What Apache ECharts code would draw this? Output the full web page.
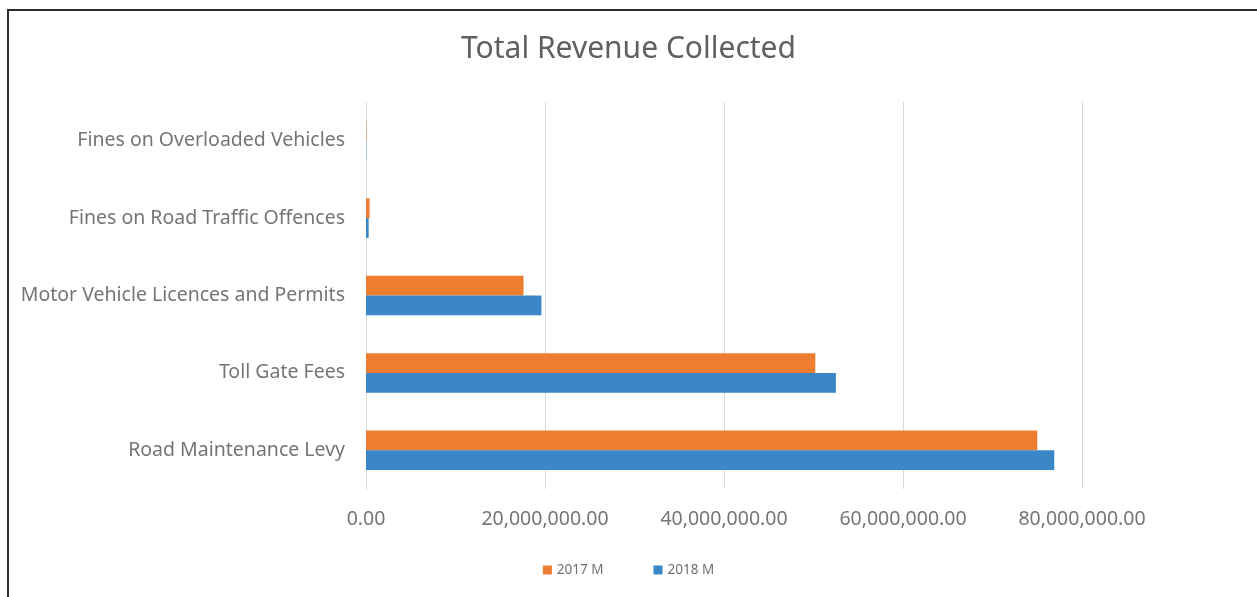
<!DOCTYPE html>
<html>
<head>
<meta charset="utf-8">
<script src="https://cdn.jsdelivr.net/npm/echarts@6/dist/echarts.min.js"></script>
<style>
html,body{margin:0;padding:0;background:#fff;}
#frame{position:absolute;left:7px;top:9px;width:1250px;height:588px;border-left:2px solid #2b2b2b;border-top:2px solid #2b2b2b;box-sizing:border-box;}
#chart{position:absolute;left:0;top:0;width:1257px;height:597px;}
</style>
</head>
<body>
<div id="frame"></div>
<div id="chart"></div>
<script>
const categories = ["Road Maintenance Levy", "Toll Gate Fees", "Motor Vehicle Licences and Permits", "Fines on Road Traffic Offences", "Fines on Overloaded Vehicles"];
const series2017 = [75000000, 50200000, 17600000, 400000, 50000];
const series2018 = [76900000, 52500000, 19600000, 300000, 30000];
const xTicks = [0, 20000000, 40000000, 60000000, 80000000];

const fmt = v => v.toLocaleString('en-US', {minimumFractionDigits: 2, maximumFractionDigits: 2});
const font = "'Noto Sans', sans-serif";
const chart = echarts.init(document.getElementById('chart'), null, {renderer: 'canvas'});
chart.setOption({
  animation: false,
  backgroundColor: 'transparent',
  title: {
    text: 'Total Revenue Collected',
    left: 'center', top: 29,
    textStyle: {fontFamily: font, fontSize: 30, fontWeight: 'normal', color: '#606060'}
  },
  legend: {
    bottom: 15, left: 'center',
    itemWidth: 9, itemHeight: 9, itemGap: 50,
    icon: 'rect',
    textStyle: {fontFamily: font, fontSize: 13.5, color: '#707070'},
    data: ['2017 M', '2018 M']
  },
  grid: {left: 366, right: 175, top: 102, bottom: 108, containLabel: false},
  xAxis: {
    type: 'value', min: 0, max: 80000000, interval: 20000000,
    axisLine: {show: false}, axisTick: {show: false},
    splitLine: {lineStyle: {color: '#d9d9d9', width: 1}},
    axisLabel: {fontFamily: font, fontSize: 19.5, color: '#757575', margin: 20,
      formatter: v => xTicks.includes(v) ? fmt(v) : ''}
  },
  yAxis: {
    type: 'category', data: categories,
    axisLine: {show: true, lineStyle: {color: '#d9d9d9'}},
    axisTick: {show: false},
    axisLabel: {fontFamily: font, fontSize: 19.5, color: '#757575', margin: 21}
  },
  series: [
    {name: '2017 M', type: 'bar', data: series2017, itemStyle: {color: '#ED7D31'}, barGap: '0%', barCategoryGap: '49%'},
    {name: '2018 M', type: 'bar', data: series2018, itemStyle: {color: '#3A86C6'}, barGap: '0%', barCategoryGap: '49%'}
  ]
});
</script>
</body>
</html>
